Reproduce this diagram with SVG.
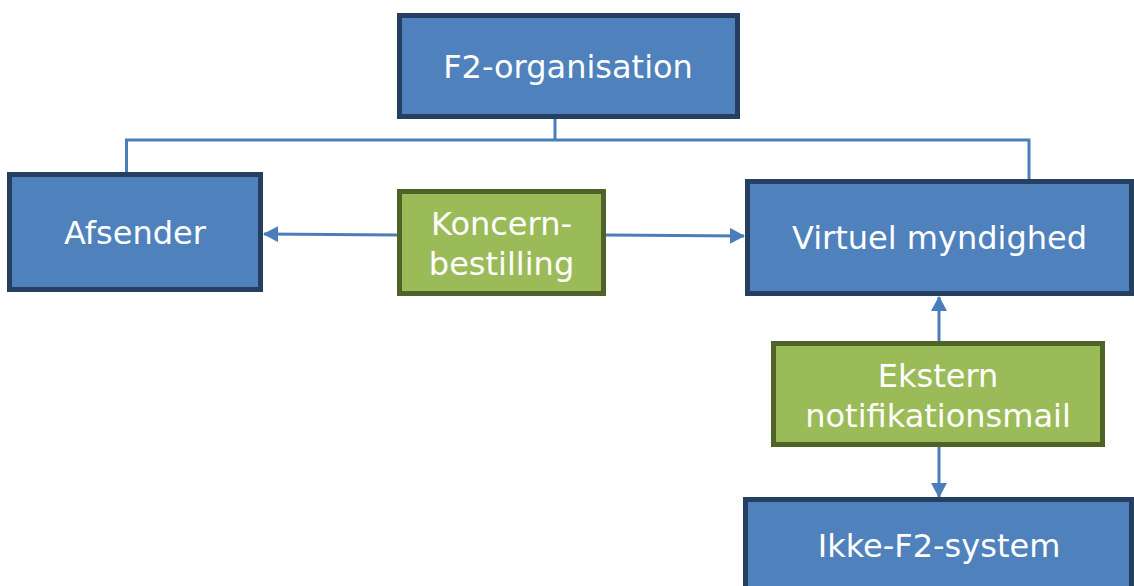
<svg xmlns="http://www.w3.org/2000/svg" width="1134" height="586" viewBox="0 0 1134 586">
<style>
.blue{fill:#4f81bd;stroke:#243f60;stroke-width:5}
.green{fill:#9bbb59;stroke:#4f6228;stroke-width:5}
.t{font-family:"DejaVu Sans",Verdana,sans-serif;font-size:32px;fill:#ffffff;text-anchor:middle}
.c{fill:none;stroke:#4a7ebb;stroke-width:3}
</style>
<defs>
<marker id="arr" markerUnits="userSpaceOnUse" markerWidth="15" markerHeight="16" refX="14" refY="8" orient="auto">
<path d="M0,0 L15,8 L0,16 z" fill="#4a7ebb"/>
</marker>
</defs>
<rect width="1134" height="586" fill="#ffffff"/>
<g id="connectors">
<polyline class="c" points="555,119 555,140"/>
<polyline class="c" points="126.5,172 126.5,140 1029,140 1029,179"/>
<line class="c" x1="397" y1="235" x2="264" y2="234" marker-end="url(#arr)"/>
<line class="c" x1="606" y1="235" x2="744" y2="236" marker-end="url(#arr)"/>
<line class="c" x1="939" y1="341" x2="939" y2="297" marker-end="url(#arr)"/>
<line class="c" x1="939" y1="447" x2="939" y2="497" marker-end="url(#arr)"/>
</g>
<g id="f2org">
<rect class="blue" x="399.5" y="15.5" width="338" height="101"/>
<text class="t" x="568" y="78">F2-organisation</text>
</g>
<g id="afsender">
<rect class="blue" x="9.5" y="174.5" width="251" height="115"/>
<text class="t" x="135" y="244">Afsender</text>
</g>
<g id="koncern">
<rect class="green" x="399.5" y="191.5" width="204" height="102"/>
<text class="t" x="501.5" y="235">Koncern-</text>
<text class="t" x="501.5" y="275">bestilling</text>
</g>
<g id="virtuel">
<rect class="blue" x="747.5" y="181.5" width="384" height="112"/>
<text class="t" x="939.5" y="249">Virtuel myndighed</text>
</g>
<g id="ekstern">
<rect class="green" x="773.5" y="343.5" width="329" height="101"/>
<text class="t" x="938" y="387">Ekstern</text>
<text class="t" x="938" y="427">notifikationsmail</text>
</g>
<g id="ikke">
<rect class="blue" x="745.5" y="499.5" width="386" height="100"/>
<text class="t" x="939" y="557">Ikke-F2-system</text>
</g>
</svg>
